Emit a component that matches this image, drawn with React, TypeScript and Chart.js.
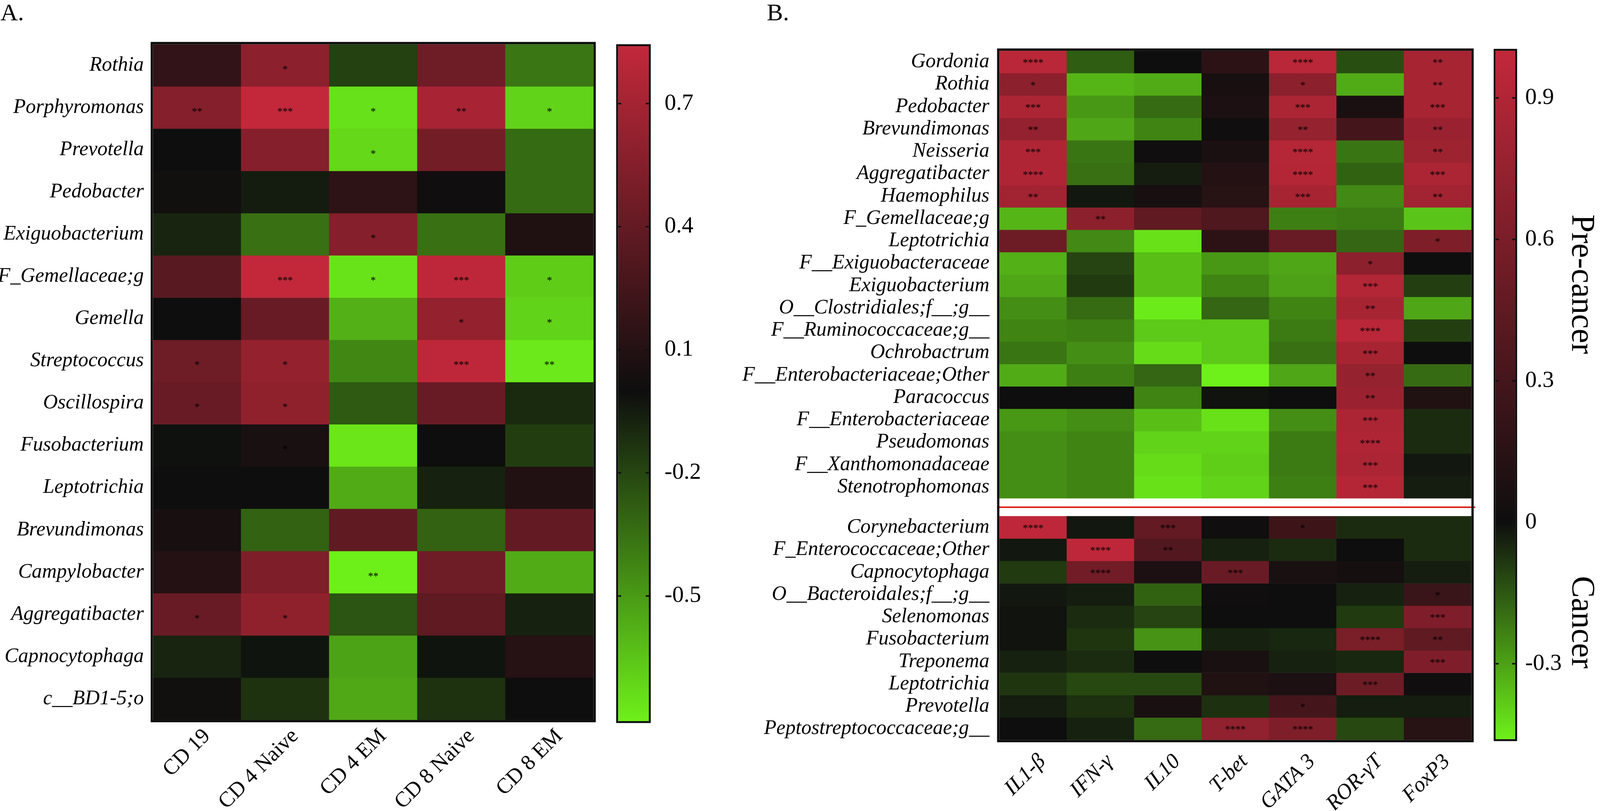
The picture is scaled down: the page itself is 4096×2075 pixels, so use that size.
import React, { useEffect, useRef } from "react";
import { Chart, registerables } from "chart.js";

Chart.register(...registerables);

const S = 0.984;
const SERIF = "'Liberation Serif', 'Times New Roman', Times, serif";
const REF_H = 2107;

// ---------------- Panel A ----------------
const taxaA = [
  "Rothia", "Porphyromonas", "Prevotella", "Pedobacter", "Exiguobacterium",
  "F_Gemellaceae;g", "Gemella", "Streptococcus", "Oscillospira", "Fusobacterium",
  "Leptotrichia", "Brevundimonas", "Campylobacter", "Aggregatibacter",
  "Capnocytophaga", "c__BD1-5;o",
];
const cellTypesA = ["CD 19", "CD 4 Naive", "CD 4 EM", "CD 8 Naive", "CD 8 EM"];
const corrA = [
  [0.17, 0.59, -0.18, 0.45, -0.37],
  [0.55, 0.84, -0.75, 0.72, -0.7],
  [0.0, 0.55, -0.72, 0.47, -0.33],
  [0.02, -0.05, 0.15, 0.01, -0.33],
  [-0.08, -0.35, 0.55, -0.35, 0.08],
  [0.35, 0.84, -0.76, 0.82, -0.68],
  [0.0, 0.42, -0.58, 0.62, -0.7],
  [0.45, 0.62, -0.43, 0.82, -0.78],
  [0.42, 0.6, -0.27, 0.42, -0.1],
  [-0.01, 0.05, -0.77, 0.0, -0.17],
  [0.0, 0.0, -0.56, -0.07, 0.09],
  [0.04, -0.3, 0.38, -0.3, 0.4],
  [0.1, 0.52, -0.8, 0.45, -0.56],
  [0.42, 0.6, -0.25, 0.38, -0.07],
  [-0.08, -0.02, -0.53, -0.02, 0.11],
  [0.02, -0.13, -0.55, -0.13, 0.0],
];
const starsA = [
  ["", "*", "", "", ""],
  ["**", "***", "*", "**", "*"],
  ["", "", "*", "", ""],
  ["", "", "", "", ""],
  ["", "", "*", "", ""],
  ["", "***", "*", "***", "*"],
  ["", "", "", "*", "*"],
  ["*", "*", "", "***", "**"],
  ["*", "*", "", "", ""],
  ["", "*", "", "", ""],
  ["", "", "", "", ""],
  ["", "", "", "", ""],
  ["", "", "**", "", ""],
  ["*", "*", "", "", ""],
  ["", "", "", "", ""],
  ["", "", "", "", ""],
];
const scaleMinA = -0.805;
const scaleMaxA = 0.84;
const barTicksA = [0.7, 0.4, 0.1, -0.2, -0.5];

// ---------------- Panel B ----------------
const taxaBPre = [
  "Gordonia", "Rothia", "Pedobacter", "Brevundimonas", "Neisseria", "Aggregatibacter",
  "Haemophilus", "F_Gemellaceae;g", "Leptotrichia", "F__Exiguobacteraceae",
  "Exiguobacterium", "O__Clostridiales;f__;g__", "F__Ruminococcaceae;g__",
  "Ochrobactrum", "F__Enterobacteriaceae;Other", "Paracoccus", "F__Enterobacteriaceae",
  "Pseudomonas", "F__Xanthomonadaceae", "Stenotrophomonas",
];
const taxaBCancer = [
  "Corynebacterium", "F_Enterococcaceae;Other", "Capnocytophaga",
  "O__Bacteroidales;f__;g__", "Selenomonas", "Fusobacterium", "Treponema",
  "Leptotrichia", "Prevotella", "Peptostreptococcaceae;g__",
];
const markersB = ["IL1-β", "IFN-γ", "IL10", "T-bet", "GATA 3", "ROR-γT", "FoxP3"];
const corrBPre = [
  [0.95, -0.16, 0.0, 0.17, 0.95, -0.13, 0.85],
  [0.7, -0.34, -0.32, 0.05, 0.7, -0.32, 0.85],
  [0.88, -0.28, -0.19, 0.08, 0.88, 0.07, 0.85],
  [0.74, -0.31, -0.24, 0.01, 0.75, 0.3, 0.78],
  [0.9, -0.21, 0.01, 0.07, 0.93, -0.21, 0.8],
  [0.9, -0.2, -0.03, 0.12, 0.92, -0.17, 0.87],
  [0.82, -0.02, 0.05, 0.14, 0.85, -0.25, 0.82],
  [-0.34, 0.7, 0.45, 0.36, -0.23, -0.22, -0.37],
  [0.53, -0.25, -0.43, 0.17, 0.5, -0.18, 0.62],
  [-0.33, -0.11, -0.36, -0.28, -0.31, 0.7, 0.0],
  [-0.31, -0.09, -0.36, -0.24, -0.3, 0.91, -0.1],
  [-0.26, -0.19, -0.45, -0.18, -0.24, 0.85, -0.31],
  [-0.24, -0.23, -0.38, -0.38, -0.22, 0.95, -0.1],
  [-0.21, -0.26, -0.42, -0.38, -0.2, 0.85, 0.0],
  [-0.32, -0.23, -0.18, -0.46, -0.31, 0.75, -0.19],
  [0.0, 0.0, -0.24, -0.01, 0.0, 0.78, 0.1],
  [-0.28, -0.26, -0.36, -0.43, -0.26, 0.87, -0.06],
  [-0.26, -0.24, -0.4, -0.4, -0.22, 0.9, -0.06],
  [-0.26, -0.24, -0.42, -0.39, -0.22, 0.87, -0.02],
  [-0.26, -0.24, -0.43, -0.4, -0.23, 0.92, -0.03],
];
const starsBPre = [
  ["****", "", "", "", "****", "", "**"],
  ["*", "", "", "", "*", "", "**"],
  ["***", "", "", "", "***", "", "***"],
  ["**", "", "", "", "**", "", "**"],
  ["***", "", "", "", "****", "", "**"],
  ["****", "", "", "", "****", "", "***"],
  ["**", "", "", "", "***", "", "**"],
  ["", "**", "", "", "", "", ""],
  ["", "", "", "", "", "", "*"],
  ["", "", "", "", "", "*", ""],
  ["", "", "", "", "", "***", ""],
  ["", "", "", "", "", "**", ""],
  ["", "", "", "", "", "****", ""],
  ["", "", "", "", "", "***", ""],
  ["", "", "", "", "", "**", ""],
  ["", "", "", "", "", "**", ""],
  ["", "", "", "", "", "***", ""],
  ["", "", "", "", "", "****", ""],
  ["", "", "", "", "", "***", ""],
  ["", "", "", "", "", "***", ""],
];
const corrBCancer = [
  [0.98, -0.02, 0.47, 0.01, 0.26, -0.06, -0.06],
  [-0.02, 0.98, 0.38, -0.04, -0.06, 0.0, -0.06],
  [-0.09, 0.55, 0.08, 0.5, 0.06, 0.04, -0.03],
  [-0.02, -0.03, -0.17, 0.01, 0.0, -0.04, 0.24],
  [-0.01, -0.06, -0.11, 0.0, 0.0, -0.09, 0.63],
  [-0.01, -0.08, -0.27, -0.04, -0.05, 0.6, 0.45],
  [-0.04, -0.06, 0.0, 0.06, -0.04, -0.05, 0.63],
  [-0.08, -0.12, -0.12, 0.1, 0.08, 0.52, 0.01],
  [-0.03, -0.07, 0.06, -0.07, 0.3, -0.03, -0.03],
  [0.0, -0.04, -0.19, 0.72, 0.62, -0.12, 0.14],
];
const starsBCancer = [
  ["****", "", "***", "", "*", "", ""],
  ["", "****", "**", "", "", "", ""],
  ["", "****", "", "***", "", "", ""],
  ["", "", "", "", "", "", "*"],
  ["", "", "", "", "", "", "***"],
  ["", "", "", "", "", "****", "**"],
  ["", "", "", "", "", "", "***"],
  ["", "", "", "", "", "***", ""],
  ["", "", "", "", "*", "", ""],
  ["", "", "", "****", "****", "", ""],
];
const scaleMinB = -0.46;
const scaleMaxB = 1.0;
const barTicksB = [0.9, 0.6, 0.3, 0, -0.3];
const groupGapB = 0.8;

// ---------------- colour map ----------------
const BLACK = [14, 14, 14];
const RED = [194, 40, 58];
const GREEN = [110, 240, 26];
const rgb = (c: number[]) => `rgb(${c[0]},${c[1]},${c[2]})`;
function heatColor(v: number, min: number, max: number) {
  const pos = v >= 0;
  const t = Math.max(0, Math.min(1, pos ? v / max : v / min));
  const end = pos ? RED : GREEN;
  return rgb(BLACK.map((b, i) => Math.round(b + (end[i] - b) * t)));
}

// ---------------- layout helpers (reference px -> window px) ----------------
function box(x0: number, x1: number) {
  const left = Math.round(x0 * S);
  const width = Math.round(x1 * S) - left;
  return { left, width, height: Math.round(REF_H * S) };
}
const boxA = box(0, 1570);
const boxBarA = box(1570, 1900);
const boxB = box(1880, 3850);
const boxBarB = box(3850, 4160);

function makeHeatmap(canvas: HTMLCanvasElement, c: any) {
  const centers = c.rowStarts.map((s: number) => s + 0.5);
  const datasets = c.values.map((row: number[], i: number) => ({
    label: c.rowLabels[i],
    data: row.map(() => [c.rowStarts[i], c.rowStarts[i] + 1]),
    backgroundColor: row.map((v) => heatColor(v, c.min, c.max)),
    borderWidth: 0,
    barPercentage: 1,
    categoryPercentage: 1,
    grouped: false,
  }));
  const extras = {
    id: "heatExtras",
    afterDatasetsDraw(chart: any) {
      const { ctx, chartArea: a, scales } = chart;
      const xs = scales.x;
      const ys = scales.y;
      ctx.save();
      ctx.fillStyle = "#000";
      ctx.font = `${27 * S}px ${SERIF}`;
      ctx.textAlign = "center";
      ctx.textBaseline = "middle";
      c.stars.forEach((row: string[], i: number) =>
        row.forEach((s, j) => {
          if (!s) return;
          ctx.fillText(s, xs.getPixelForValue(j), ys.getPixelForValue(centers[i]) + c.starDy);
        })
      );
      if (c.separator != null) {
        const yy = ys.getPixelForValue(c.separator);
        ctx.strokeStyle = "#dc1e10";
        ctx.lineWidth = 4 * S;
        ctx.beginPath();
        ctx.moveTo(a.left - 6 * S, yy);
        ctx.lineTo(a.right + 10 * S, yy);
        ctx.stroke();
      }
      const bw = 6 * S;
      ctx.strokeStyle = "#0e0e0e";
      ctx.lineWidth = bw;
      ctx.strokeRect(a.left - bw / 2, a.top - bw / 2, a.right - a.left + bw, a.bottom - a.top + bw);
      ctx.fillStyle = "#000";
      ctx.font = `${63 * S}px ${SERIF}`;
      ctx.textAlign = "left";
      ctx.textBaseline = "alphabetic";
      ctx.fillText(c.letter, c.letterX, c.letterY);
      ctx.restore();
    },
  };
  return new Chart(canvas, {
    type: "bar",
    data: { labels: c.columns, datasets },
    options: {
      responsive: false,
      maintainAspectRatio: false,
      animation: false,
      events: [],
      layout: { padding: { left: 0, top: c.padTop, right: c.padRight, bottom: 0 } },
      plugins: { legend: { display: false }, tooltip: { enabled: false } },
      scales: {
        x: {
          type: "category",
          offset: true,
          grid: { display: false, drawTicks: false },
          border: { display: false },
          ticks: {
            autoSkip: false,
            maxRotation: 45,
            minRotation: 45,
            padding: c.xPad,
            labelOffset: c.xLabelOffset,
            color: "#000",
            font: { family: SERIF, size: 56 * S, style: c.xItalic ? "italic" : "normal" },
          },
          afterFit: (s: any) => {
            s.height = c.xAxisHeight;
          },
        },
        y: {
          type: "linear",
          min: 0,
          max: c.yMax,
          reverse: true,
          grid: { display: false, drawTicks: false },
          border: { display: false },
          afterBuildTicks: (s: any) => {
            s.ticks = centers.map((v: number) => ({ value: v }));
          },
          ticks: {
            autoSkip: false,
            padding: c.yPad,
            color: "#000",
            font: { family: SERIF, size: 53 * S, style: "italic" },
            callback: (_v: any, i: number) => c.rowLabels[i],
          },
          afterFit: (s: any) => {
            s.width = c.yAxisWidth;
          },
        },
      },
    } as any,
    plugins: [extras],
  });
}

function makeColorbar(canvas: HTMLCanvasElement, c: any) {
  const fill = (ctx: any) => {
    const chart = ctx.chart;
    if (!chart.chartArea) return "rgba(0,0,0,0)";
    const ys = chart.scales.y;
    const y0 = ys.getPixelForValue(c.max);
    const y1 = ys.getPixelForValue(c.min);
    const g = chart.ctx.createLinearGradient(0, y0, 0, y1);
    g.addColorStop(0, heatColor(c.max, c.min, c.max));
    g.addColorStop(c.max / (c.max - c.min), heatColor(0, c.min, c.max));
    g.addColorStop(1, heatColor(c.min, c.min, c.max));
    return g;
  };
  const extras = {
    id: "barExtras",
    afterDatasetsDraw(chart: any) {
      const { ctx, chartArea: a, scales } = chart;
      const ys = scales.y;
      ctx.save();
      ctx.fillStyle = "#111";
      const tl = 8 * S;
      const th = 4 * S;
      c.ticks.forEach((v: number) => {
        const py = ys.getPixelForValue(v);
        ctx.fillRect(a.left, py - th / 2, tl, th);
        ctx.fillRect(a.right - tl, py - th / 2, tl, th);
      });
      const bw = 5 * S;
      ctx.strokeStyle = "#111";
      ctx.lineWidth = bw;
      ctx.strokeRect(a.left - bw / 2, a.top - bw / 2, a.right - a.left + bw, a.bottom - a.top + bw);
      (c.sideLabels || []).forEach((l: any) => {
        ctx.save();
        ctx.translate(l.x, l.y);
        ctx.rotate(Math.PI / 2);
        ctx.fillStyle = "#000";
        ctx.font = `${85 * S}px ${SERIF}`;
        ctx.textAlign = "center";
        ctx.textBaseline = "alphabetic";
        ctx.fillText(l.text, 0, 0);
        ctx.restore();
      });
      ctx.restore();
    },
  };
  return new Chart(canvas, {
    type: "bar",
    data: {
      labels: [""],
      datasets: [
        {
          data: [[c.min, c.max]],
          backgroundColor: fill,
          borderWidth: 0,
          barPercentage: 1,
          categoryPercentage: 1,
        },
      ],
    },
    options: {
      responsive: false,
      maintainAspectRatio: false,
      animation: false,
      events: [],
      layout: { padding: { left: c.padLeft, top: c.padTop, right: 0, bottom: c.padBottom } },
      plugins: { legend: { display: false }, tooltip: { enabled: false } },
      scales: {
        x: { type: "category", display: false, offset: true },
        y: {
          type: "linear",
          position: "right",
          min: c.min,
          max: c.max,
          grid: { display: false, drawTicks: false },
          border: { display: false },
          afterBuildTicks: (s: any) => {
            s.ticks = c.ticks.map((v: number) => ({ value: v }));
          },
          ticks: {
            autoSkip: false,
            padding: c.labelPad,
            color: "#000",
            font: { family: SERIF, size: 60 * S },
            callback: (v: any) => String(v),
          },
          afterFit: (s: any) => {
            s.width = c.axisWidth;
          },
        },
      },
    } as any,
    plugins: [extras],
  });
}

export default function App() {
  const aRef = useRef<HTMLCanvasElement>(null);
  const aBarRef = useRef<HTMLCanvasElement>(null);
  const bRef = useRef<HTMLCanvasElement>(null);
  const bBarRef = useRef<HTMLCanvasElement>(null);

  useEffect(() => {
    const charts: Chart[] = [];
    // Panel A heatmap
    charts.push(
      makeHeatmap(aRef.current!, {
        rowLabels: taxaA,
        rowStarts: taxaA.map((_, i) => i),
        yMax: taxaA.length,
        columns: cellTypesA,
        values: corrA,
        stars: starsA,
        min: scaleMinA,
        max: scaleMaxA,
        padTop: 115 * S,
        padRight: boxA.width - (1544 * S - boxA.left),
        yAxisWidth: 398 * S - boxA.left,
        xAxisHeight: boxA.height - 1872 * S,
        xPad: 10 * S,
        xLabelOffset: 26 * S,
        xItalic: false,
        yPad: 24 * S,
        starDy: 12 * S,
        letter: "A.",
        letterX: 1 * S - boxA.left,
        letterY: 53 * S,
      })
    );
    charts.push(
      makeColorbar(aBarRef.current!, {
        min: scaleMinA,
        max: scaleMaxA,
        ticks: barTicksA,
        padLeft: 1608 * S - boxBarA.left,
        axisWidth: boxBarA.width - (1688 * S - boxBarA.left),
        padTop: 120 * S,
        padBottom: boxBarA.height - 1875 * S,
        labelPad: 41 * S,
      })
    );
    // Panel B heatmap
    const startsB = [
      ...taxaBPre.map((_, i) => i),
      ...taxaBCancer.map((_, j) => taxaBPre.length + groupGapB + j),
    ];
    charts.push(
      makeHeatmap(bRef.current!, {
        rowLabels: [...taxaBPre, ...taxaBCancer],
        rowStarts: startsB,
        yMax: taxaBPre.length + groupGapB + taxaBCancer.length,
        columns: markersB,
        values: [...corrBPre, ...corrBCancer],
        stars: [...starsBPre, ...starsBCancer],
        min: scaleMinB,
        max: scaleMaxB,
        padTop: 132 * S,
        padRight: boxB.width - (3828 * S - boxB.left),
        yAxisWidth: 2600 * S - boxB.left,
        xAxisHeight: boxB.height - 1924 * S,
        xPad: 24 * S,
        xLabelOffset: 24 * S,
        xItalic: true,
        yPad: 26 * S,
        starDy: 4 * S,
        separator: taxaBPre.length + groupGapB / 2,
        letter: "B.",
        letterX: 1995 * S - boxB.left,
        letterY: 53 * S,
      })
    );
    charts.push(
      makeColorbar(bBarRef.current!, {
        min: scaleMinB,
        max: scaleMaxB,
        ticks: barTicksB,
        padLeft: 3891 * S - boxBarB.left,
        axisWidth: boxBarB.width - (3942 * S - boxBarB.left),
        padTop: 132 * S,
        padBottom: boxBarB.height - 1922 * S,
        labelPad: 26 * S,
        sideLabels: [
          { text: "Pre-cancer", x: 4090 * S - boxBarB.left, y: 739 * S },
          { text: "Cancer", x: 4090 * S - boxBarB.left, y: 1618 * S },
        ],
      })
    );
    return () => charts.forEach((ch) => ch.destroy());
  }, []);

  const cv = (b: { left: number; width: number; height: number }) => ({
    position: "absolute" as const,
    left: b.left,
    top: 0,
    width: b.width,
    height: b.height,
  });

  return (
    <div
      style={{
        position: "fixed",
        left: 0,
        top: 0,
        width: 4096,
        height: 2075,
        background: "#ffffff",
        overflow: "hidden",
      }}
    >
      <canvas ref={aRef} width={boxA.width} height={boxA.height} style={cv(boxA)} />
      <canvas ref={aBarRef} width={boxBarA.width} height={boxBarA.height} style={cv(boxBarA)} />
      <canvas ref={bRef} width={boxB.width} height={boxB.height} style={cv(boxB)} />
      <canvas ref={bBarRef} width={boxBarB.width} height={boxBarB.height} style={cv(boxBarB)} />
    </div>
  );
}
